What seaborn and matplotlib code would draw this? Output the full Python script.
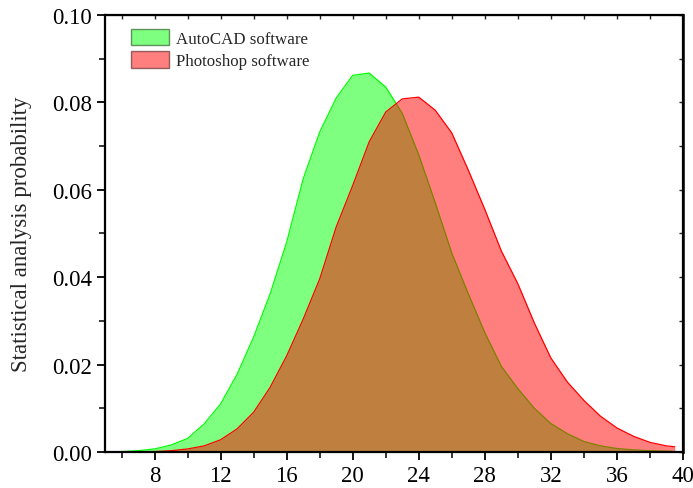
import matplotlib
matplotlib.use("Agg")
import matplotlib.pyplot as plt
from matplotlib.patches import Patch
from matplotlib.ticker import MultipleLocator
import seaborn as sns
import pandas as pd

x_vals = list(range(5, 40)) + [39.5]
autocad = [0.00005, 0.0001, 0.0003, 0.0007, 0.0016, 0.0031, 0.0064, 0.0110, 0.0178,
           0.0263, 0.0362, 0.0480, 0.0625, 0.0732, 0.0810, 0.0862, 0.0867, 0.0835,
           0.0775, 0.0680, 0.0570, 0.0455, 0.0362, 0.0273, 0.0196, 0.0145, 0.0100,
           0.0065, 0.0042, 0.0024, 0.0014, 0.0008, 0.0005, 0.0003, 0.0002, 0.0001]
photoshop = [0.0, 0.00002, 0.00005, 0.0001, 0.0003, 0.0007, 0.0014, 0.0028, 0.0053,
             0.0091, 0.0148, 0.0220, 0.0304, 0.0396, 0.0515, 0.0610, 0.0710, 0.0778,
             0.0808, 0.0812, 0.0782, 0.0730, 0.0645, 0.0555, 0.0460, 0.0385, 0.0295,
             0.0215, 0.0160, 0.0118, 0.0082, 0.0055, 0.0036, 0.0022, 0.0014, 0.0012]
series_names = ["AutoCAD software", "Photoshop software"]
x_ticks = [8, 12, 16, 20, 24, 28, 32, 36, 40]
y_ticks = [0.00, 0.02, 0.04, 0.06, 0.08, 0.10]

sns.set_style("ticks")
plt.rcParams["font.family"] = ["Liberation Serif", "DejaVu Serif"]

fig = plt.figure(figsize=(6.93, 4.89), dpi=100)
ax = fig.add_axes([0.1515, 0.0736, 0.8341, 0.8937])

df = pd.DataFrame({"x": x_vals, "AutoCAD": autocad, "Photoshop": photoshop})

fill_cols = [(0, 1, 0, 0.5), (1, 0, 0, 0.5)]
line_cols = ["#00FF00", "#FF0000"]
z = 1
for col, fc, lc in zip(["AutoCAD", "Photoshop"], fill_cols, line_cols):
    sns.lineplot(data=df, x="x", y=col, ax=ax, color=lc, linewidth=0.9, zorder=z + 1)
    ax.fill_between(df["x"], 0, df[col], color=fc, linewidth=0, zorder=z)
    z += 2

ax.set_xlim(5, 40)
ax.set_ylim(0, 0.10)
ax.set_xticks(x_ticks)
ax.set_yticks(y_ticks)
ax.set_yticklabels([f"{v:.2f}" for v in y_ticks])
ax.xaxis.set_minor_locator(MultipleLocator(2))
ax.yaxis.set_minor_locator(MultipleLocator(0.01))
ax.set_xlabel("")
ax.set_ylabel("Statistical analysis probability", fontsize=16.5, labelpad=14)
ax.tick_params(axis="both", which="major", direction="out", length=6, width=1.3,
               labelsize=16.5, colors="black")
ax.tick_params(axis="both", which="minor", direction="out", length=4, width=1.3)

for s in ax.spines.values():
    s.set_linewidth(1.6)
    s.set_color("black")
    s.set_zorder(10)

secx = ax.secondary_xaxis("top")
secx.set_xticks(list(range(6, 41, 2)))
secx.tick_params(direction="in", length=3, width=1, labeltop=False)
secx.set_xticklabels([])
secy = ax.secondary_yaxis("right")
secy.set_yticks([i / 100 for i in range(0, 11)])
secy.tick_params(direction="in", length=3, width=1, labelright=False)
secy.set_yticklabels([])
secy.spines["right"].set_linewidth(2)

handles = [Patch(facecolor=fill_cols[0], edgecolor=(0.2, 0.4, 0.2, 0.7), linewidth=1),
           Patch(facecolor=fill_cols[1], edgecolor=(0.4, 0.2, 0.2, 0.7), linewidth=1)]
ax.legend(handles, series_names, loc="upper left", frameon=False, fontsize=12.2,
          bbox_to_anchor=(0.022, 1.0), handlelength=2.2, handleheight=1.15,
          handletextpad=0.45, labelspacing=0.25, borderaxespad=0.4)

fig.savefig("out.png", dpi=100)
